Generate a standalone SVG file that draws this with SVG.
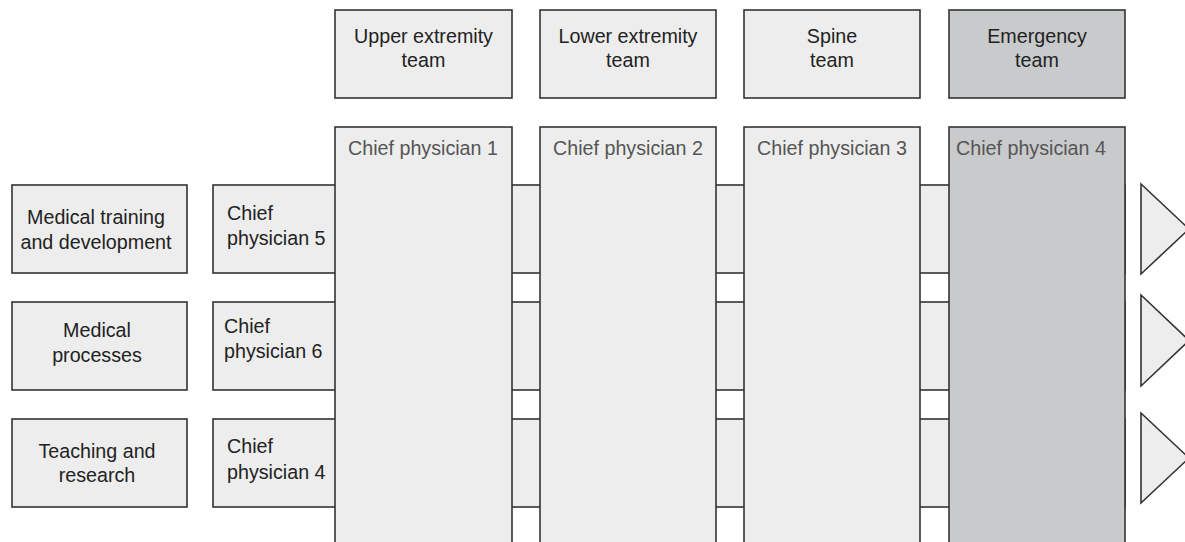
<svg xmlns="http://www.w3.org/2000/svg" width="1185" height="542" viewBox="0 0 1185 542">
<style>
.b{fill:#ededed;stroke:#333;stroke-width:1.6}
.e{fill:#c9cacc;stroke:#333;stroke-width:1.6}
text{font-family:"Liberation Sans",Arial,sans-serif;font-size:19.7px}
.d{fill:#222}
.g{fill:#555}
.c{text-anchor:middle}
</style>
<rect width="1185" height="542" fill="#fff"/>
<g id="connectors">
<rect class="b" x="213" y="185" width="912" height="88"/>
<rect class="b" x="213" y="302" width="912" height="88"/>
<rect class="b" x="213" y="419" width="912" height="88"/>
</g>
<g id="team-upper"><rect class="b" x="335" y="10" width="177" height="88"/><text class="d c" x="423.5" y="42.5">Upper extremity</text><text class="d c" x="423.5" y="66.5">team</text></g>
<g id="team-lower"><rect class="b" x="540" y="10" width="176" height="88"/><text class="d c" x="628" y="42.5">Lower extremity</text><text class="d c" x="628" y="66.5">team</text></g>
<g id="team-spine"><rect class="b" x="744" y="10" width="176" height="88"/><text class="d c" x="832" y="42.5">Spine</text><text class="d c" x="832" y="66.5">team</text></g>
<g id="team-emergency"><rect class="e" x="949" y="10" width="176" height="88"/><text class="d c" x="1037" y="42.5">Emergency</text><text class="d c" x="1037" y="66.5">team</text></g>
<g id="col1"><rect class="b" x="335" y="127" width="177" height="430"/><text class="g" x="348" y="155">Chief physician 1</text></g>
<g id="col2"><rect class="b" x="540" y="127" width="176" height="430"/><text class="g" x="553" y="155">Chief physician 2</text></g>
<g id="col3"><rect class="b" x="744" y="127" width="176" height="430"/><text class="g" x="757" y="155">Chief physician 3</text></g>
<g id="col4"><rect class="e" x="949" y="127" width="176" height="430"/><text class="g" x="956" y="155">Chief physician 4</text></g>
<g id="row1"><rect class="b" x="12" y="185" width="175" height="88"/><text class="d c" x="96" y="223.5">Medical training</text><text class="d c" x="96" y="248.5">and development</text></g>
<g id="row2"><rect class="b" x="12" y="302" width="175" height="88"/><text class="d c" x="97" y="336.5">Medical</text><text class="d c" x="97" y="361.5">processes</text></g>
<g id="row3"><rect class="b" x="12" y="419" width="175" height="88"/><text class="d c" x="97" y="457.5">Teaching and</text><text class="d c" x="97" y="481.5">research</text></g>
<g id="cp5"><text class="d" x="227" y="220">Chief</text><text class="d" x="227" y="245">physician 5</text></g>
<g id="cp6"><text class="d" x="224" y="333">Chief</text><text class="d" x="224" y="358">physician 6</text></g>
<g id="cp4"><text class="d" x="227" y="453">Chief</text><text class="d" x="227" y="478.5">physician 4</text></g>
<g id="arrow1"><polygon class="b" points="1141,184 1189,229 1141,274"/></g>
<g id="arrow2"><polygon class="b" points="1141,295 1189,340.5 1141,386"/></g>
<g id="arrow3"><polygon class="b" points="1141,413 1189,458 1141,503"/></g>
</svg>
